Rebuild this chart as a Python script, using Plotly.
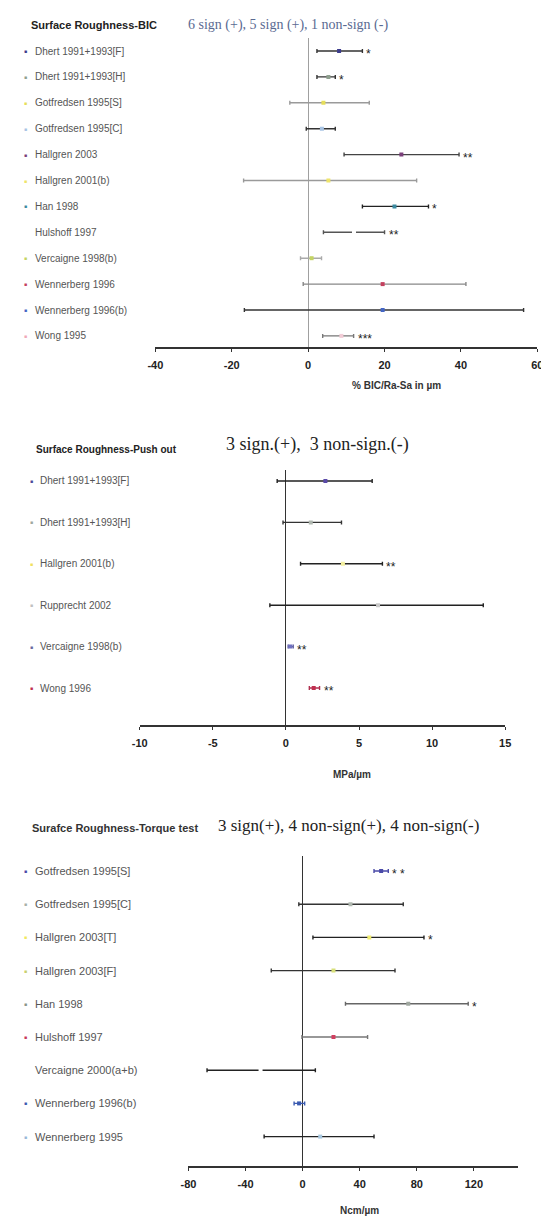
import plotly.graph_objects as go

W, H = 549, 1217

# ---------------- Panel 1: Surface Roughness - BIC ----------------
bic_labels = ["Dhert 1991+1993[F]", "Dhert 1991+1993[H]", "Gotfredsen 1995[S]", "Gotfredsen 1995[C]",
              "Hallgren 2003", "Hallgren 2001(b)", "Han 1998", "Hulshoff 1997",
              "Vercaigne 1998(b)", "Wennerberg 1996", "Wennerberg 1996(b)", "Wong 1995"]
bic_mean = [8.1, 5.3, 4.0, 3.6, 24.4, 5.3, 22.6, 12.0, 0.9, 19.5, 19.5, 8.7]
bic_lo = [2.3, 2.3, -4.8, -0.5, 9.4, -16.9, 14.2, 4.0, -2.0, -1.3, -16.7, 3.8]
bic_hi = [14.2, 7.1, 16.0, 7.1, 39.5, 28.4, 31.5, 20.0, 3.5, 41.3, 56.4, 11.9]
bic_stars = ["*", "*", "", "", "**", "", "*", "**", "", "", "", "***"]
bic_marker = ["#3c3c8c", "#8fa08f", "#e6de5a", "#a8c4e4", "#7a3f7a", "#eee46a", "#3a8aa0",
              "#ffffff", "#c4d464", "#c4405e", "#4466c4", "#f2ccd6"]
bic_bullet = ["#3c3c8c", "#8fa08f", "#e6de5a", "#a8c4e4", "#7a3f7a", "#eee46a", "#3a8aa0",
              "rgba(0,0,0,0)", "#c4d464", "#c4405e", "#4466c4", "#f0a8b8"]
bic_line = ["#333333", "#333333", "#9a9a9a", "#333333", "#444444", "#9a9a9a", "#222222",
            "#555555", "#aaaaaa", "#888888", "#333333", "#777777"]
bic_ticks = [-40, -20, 0, 20, 40, 60]

# ---------------- Panel 2: Surface Roughness - Push out ----------------
push_labels = ["Dhert 1991+1993[F]", "Dhert 1991+1993[H]", "Hallgren 2001(b)", "Rupprecht 2002",
               "Vercaigne 1998(b)", "Wong 1996"]
push_mean = [2.7, 1.7, 3.9, 6.3, 0.3, 1.9]
push_lo = [-0.6, -0.2, 1.0, -1.1, 0.15, 1.6]
push_hi = [5.9, 3.8, 6.6, 13.5, 0.5, 2.3]
push_stars = ["", "", "**", "", "**", "**"]
push_marker = ["#5a4aa8", "#b0b8b0", "#f4f0a0", "#c8c8c8", "#7070c0", "#c03050"]
push_bullet = ["#4a4a9a", "#a0a8a0", "#f0e060", "#c0c0c0", "#6a6aa0", "#c03050"]
push_line = ["#222222", "#333333", "#222222", "#222222", "#6060a0", "#b03050"]
push_ticks = [-10, -5, 0, 5, 10, 15]

# ---------------- Panel 3: Surface Roughness - Torque test ----------------
torq_labels = ["Gotfredsen 1995[S]", "Gotfredsen 1995[C]", "Hallgren 2003[T]", "Hallgren 2003[F]",
               "Han 1998", "Hulshoff 1997", "Vercaigne 2000(a+b)", "Wennerberg 1996(b)", "Wennerberg 1995"]
torq_mean = [55, 33.5, 46.7, 21.6, 74, 21.6, -29.5, -2.5, 12.3]
torq_lo = [50, -2.7, 7.2, -22, 30, -0.5, -67, -6, -27]
torq_hi = [60, 70.5, 85, 64.7, 116, 45.5, 8.9, 1.4, 50]
torq_stars = ["* *", "", "*", "", "*", "", "", "", ""]
torq_marker = ["#4a4aa8", "#b0b8b0", "#f0ec70", "#d8e07a", "#a0a8a0", "#d04060", "#ffffff",
               "#3a5ab0", "#a8c8e0"]
torq_bullet = ["#4a4aa8", "#a8b0a8", "#f0e860", "#c8d070", "#8a948a", "#c8385a", "rgba(0,0,0,0)",
               "#3a5ab0", "#98b8d8"]
torq_line = ["#4a4aa8", "#333333", "#222222", "#333333", "#666666", "#777777", "#222222",
             "#3a5ab0", "#222222"]
torq_ticks = [-80, -40, 0, 40, 80, 120]


def py(px):
    return 1 - px / H


def pxx(px):
    return px / W


panels = [
    dict(labels=bic_labels, mean=bic_mean, lo=bic_lo, hi=bic_hi, stars=bic_stars,
         marker=bic_marker, bullet=bic_bullet, line=bic_line, ticks=bic_ticks,
         xpx=(143, 535), xr=(-40, 60), top=30, axis=339, row0=43, step=25.9,
         zcol="#a0a0a0", lab_x=17, bul_x=10, lab_size=10, axis_title="% BIC/Ra-Sa in µm",
         at_x=390, at_y=378),
    dict(labels=push_labels, mean=push_mean, lo=push_lo, hi=push_hi, stars=push_stars,
         marker=push_marker, bullet=push_bullet, line=push_line, ticks=push_ticks,
         xpx=(127, 502), xr=(-10, 15), top=462, axis=717, row0=473, step=41.4,
         zcol="#333333", lab_x=23, bul_x=16, lab_size=10, axis_title="MPa/µm",
         at_x=345, at_y=766),
    dict(labels=torq_labels, mean=torq_mean, lo=torq_lo, hi=torq_hi, stars=torq_stars,
         marker=torq_marker, bullet=torq_bullet, line=torq_line, ticks=torq_ticks,
         xpx=(177, 515), xr=(-80, 150.8), top=848, axis=1158, row0=863, step=33.2,
         zcol="#333333", lab_x=17, bul_x=10, lab_size=11, axis_title="Ncm/µm",
         at_x=353, at_y=1202),
]

fig = go.Figure()
annotations = []
layout = {}

for k, p in enumerate(panels, start=1):
    xa = "x" if k == 1 else f"x{k}"
    ya = "y" if k == 1 else f"y{k}"
    n = len(p["labels"])
    for i in range(n):
        fig.add_trace(go.Scatter(
            x=[p["mean"][i]], y=[i], mode="markers", xaxis=xa, yaxis=ya,
            marker=dict(symbol="square", size=4, color=p["marker"][i], line=dict(width=0)),
            error_x=dict(type="data", symmetric=False,
                         array=[p["hi"][i] - p["mean"][i]],
                         arrayminus=[p["mean"][i] - p["lo"][i]],
                         color=p["line"][i], thickness=1.4, width=2),
            showlegend=False, hoverinfo="skip"))
        if p["stars"][i]:
            annotations.append(dict(x=p["hi"][i], y=i, xref=xa, yref=ya, text=p["stars"][i],
                                    showarrow=False, xanchor="left", yanchor="middle",
                                    xshift=2, yshift=-3,
                                    font=dict(family="Arial", size=12, color="#222222")))
        annotations.append(dict(x=pxx(p["lab_x"]), y=i, xref="paper", yref=ya,
                                text=p["labels"][i], showarrow=False, xanchor="left",
                                yanchor="middle",
                                font=dict(family="Arial", size=p["lab_size"], color="#555555")))
        annotations.append(dict(x=pxx(p["bul_x"]), y=i, xref="paper", yref=ya, text="■",
                                showarrow=False, xanchor="center", yanchor="middle",
                                font=dict(family="Arial", size=5, color=p["bullet"][i])))
    ytop = (p["top"] - p["row0"]) / p["step"]
    ybot = (p["axis"] - p["row0"]) / p["step"]
    layout["xaxis" if k == 1 else f"xaxis{k}"] = dict(
        domain=[pxx(p["xpx"][0]), pxx(p["xpx"][1])], range=list(p["xr"]), anchor=ya,
        showline=True, linecolor="#333333", linewidth=1.5, showgrid=False,
        zeroline=True, zerolinecolor=p["zcol"], zerolinewidth=1,
        tickmode="array", tickvals=p["ticks"], ticktext=[f"<b>{t}</b>" for t in p["ticks"]],
        ticks="outside", ticklen=3, tickcolor="#333333", ticklabelstandoff=4,
        ticklabeloverflow="allow",
        tickfont=dict(family="Arial", size=11, color="#222222"))
    layout["yaxis" if k == 1 else f"yaxis{k}"] = dict(
        domain=[py(p["axis"]), py(p["top"])], range=[ybot, ytop], anchor=xa,
        visible=False, showgrid=False, zeroline=False)
    annotations.append(dict(x=pxx(p["at_x"]), y=py(p["at_y"]), xref="paper", yref="paper",
                            text=f"<b>{p['axis_title']}</b>", showarrow=False,
                            xanchor="center", yanchor="middle",
                            font=dict(family="Arial", size=10, color="#333333")))

# titles
annotations += [
    dict(x=pxx(13), y=py(17), xref="paper", yref="paper", text="<b>Surface Roughness-BIC</b>",
         showarrow=False, xanchor="left", yanchor="middle",
         font=dict(family="Arial", size=11, color="#222222")),
    dict(x=pxx(174), y=py(17), xref="paper", yref="paper",
         text="6 sign (+), 5 sign (+), 1 non-sign (-)", showarrow=False, xanchor="left",
         yanchor="middle", font=dict(family="Liberation Serif", size=14, color="#5a6a92")),
    dict(x=pxx(18), y=py(441), xref="paper", yref="paper", text="<b>Surface Roughness-Push out</b>",
         showarrow=False, xanchor="left", yanchor="middle",
         font=dict(family="Arial", size=10, color="#222222")),
    dict(x=pxx(213), y=py(437), xref="paper", yref="paper",
         text="3 sign.(+),  3 non-sign.(-)", showarrow=False, xanchor="left", yanchor="middle",
         font=dict(family="Liberation Serif", size=18, color="#222222")),
    dict(x=pxx(14), y=py(820), xref="paper", yref="paper", text="<b>Surafce Roughness-Torque test</b>",
         showarrow=False, xanchor="left", yanchor="middle",
         font=dict(family="Arial", size=11, color="#333333")),
    dict(x=pxx(205), y=py(817), xref="paper", yref="paper",
         text="3 sign(+), 4 non-sign(+), 4 non-sign(-)", showarrow=False, xanchor="left",
         yanchor="middle", font=dict(family="Liberation Serif", size=17, color="#222222")),
]

fig.update_layout(width=W, height=H, margin=dict(l=0, r=0, t=0, b=0),
                  paper_bgcolor="white", plot_bgcolor="white",
                  annotations=annotations, **layout)

fig.write_html("out.html")
